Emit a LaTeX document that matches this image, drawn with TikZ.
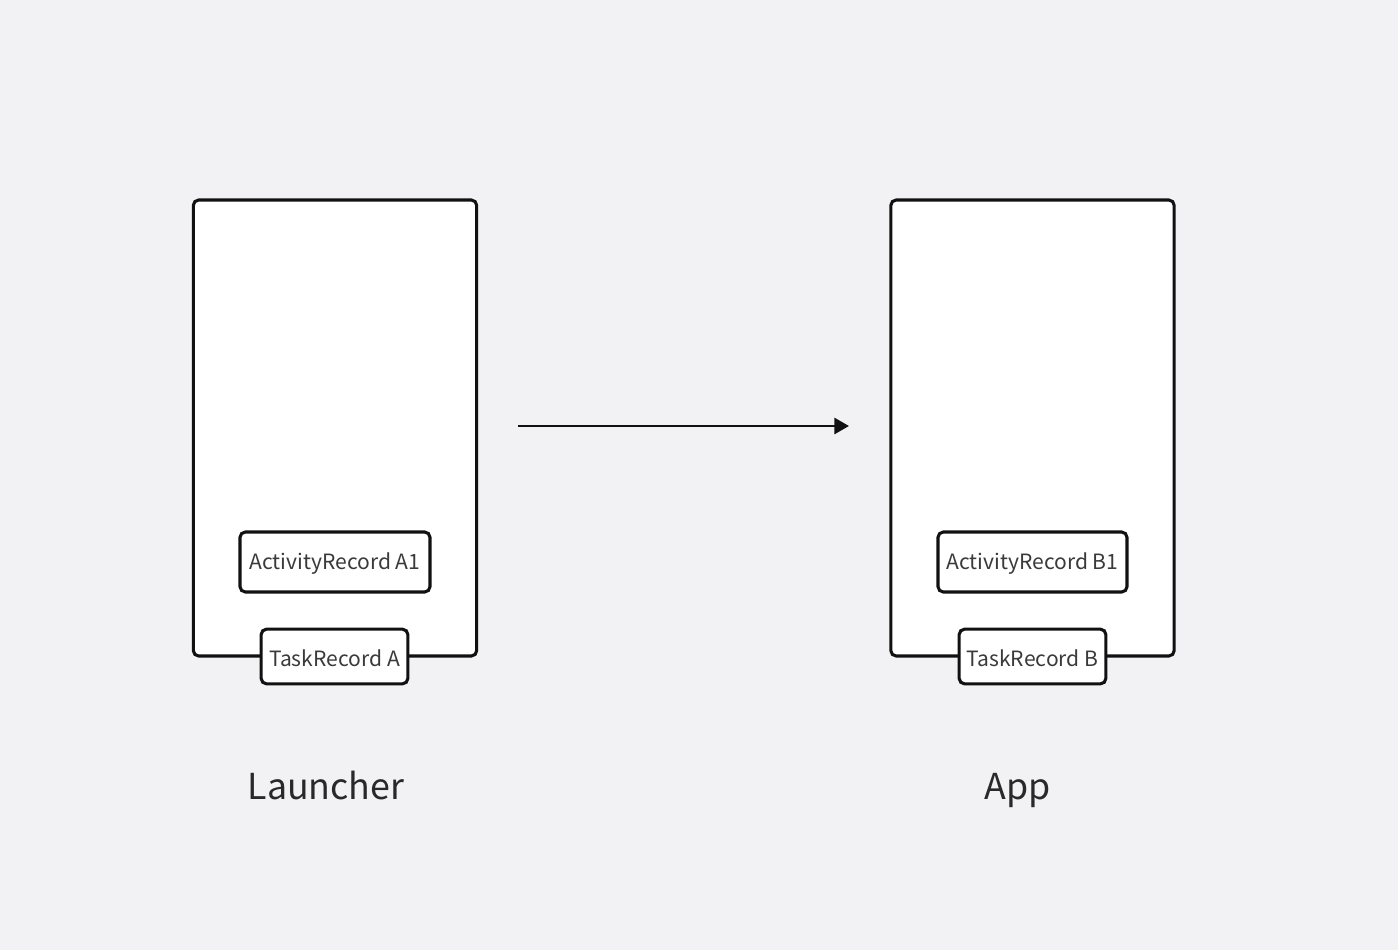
\documentclass[tikz,border=0pt]{standalone}
\usepackage{fontspec}
\setmainfont{Noto Sans CJK SC}
\usetikzlibrary{arrows.meta}
\definecolor{bg}{HTML}{F2F2F4}
\definecolor{ink}{HTML}{111111}
\definecolor{labelgray}{HTML}{3A3A3A}
\begin{document}
\begin{tikzpicture}[x=0.75pt,y=-0.75pt,
  stack/.style={draw=ink,line width=2.3pt,fill=white,rounded corners=4pt,
    inner sep=0pt,minimum width=212.5pt,minimum height=342pt},
  rec/.style={draw=ink,line width=2.3pt,fill=white,rounded corners=4pt,
    inner sep=0pt},
  lbl/.style={yshift=-1.5pt,text=labelgray,font=\fontsize{15.8}{18}\selectfont},
  caption/.style={anchor=base,text=ink!90,font=\fontsize{26.8}{32}\selectfont}]
\useasboundingbox[fill=bg] (0,0) rectangle (1398,950);
% Launcher task stack
\node[stack] (stackA) at (335,428) {};
\node[rec,minimum width=142.5pt,minimum height=45pt] (actA) at (335,562) {};
\node[lbl] (actAtxt) at (actA) {ActivityRecord A1};
\node[rec,minimum width=110pt,minimum height=41pt] (taskA) at (334.5,656.5) {};
\node[lbl] (taskAtxt) at (taskA) {TaskRecord A};
% App task stack
\node[stack] (stackB) at (1032.5,428) {};
\node[rec,minimum width=141.75pt,minimum height=45pt] (actB) at (1032.5,562) {};
\node[lbl] (actBtxt) at (actB) {ActivityRecord B1};
\node[rec,minimum width=110pt,minimum height=41pt] (taskB) at (1032.5,656.5) {};
\node[lbl] (taskBtxt) at (taskB) {TaskRecord B};
% transition arrow
\coordinate (arrS) at (518,426);
\coordinate (arrE) at (849,426);
\draw[ink,line width=2.2pt,-{Triangle[length=11pt,width=12pt]}] (arrS) -- (arrE);
% captions
\node[caption] (capA) at (326,799) {Launcher};
\node[caption] (capB) at (1018,799) {App};
\end{tikzpicture}
\end{document}
